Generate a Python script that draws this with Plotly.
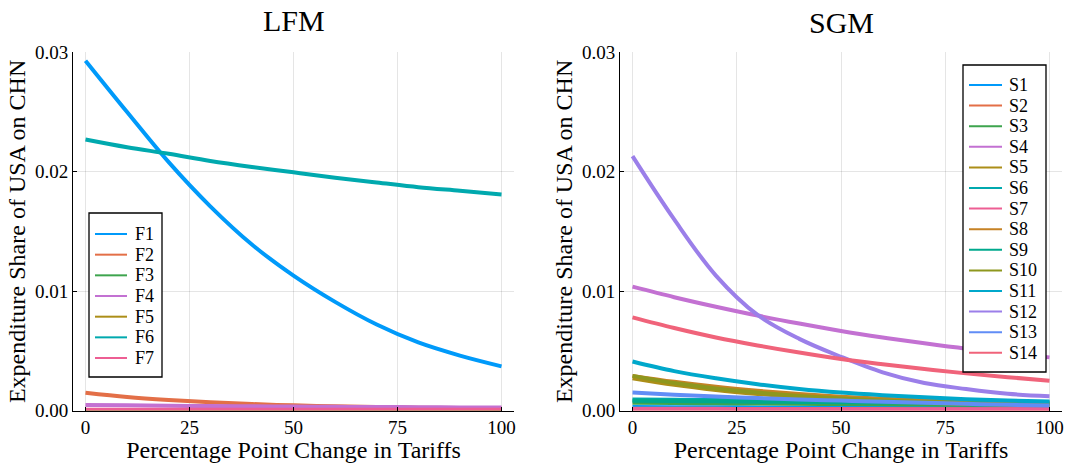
import plotly.graph_objects as go

# ---------------- data ----------------
tariff_change = [0, 10, 20, 30, 40, 50, 60, 70, 80, 90, 100]

lfm_names = ["F1", "F2", "F3", "F4", "F5", "F6", "F7"]
F1 = [0.0293, 0.0250, 0.0208, 0.0171, 0.0139, 0.0113, 0.0091, 0.0072, 0.0057, 0.0046, 0.0037]
F2 = [0.00148, 0.00113, 0.00088, 0.00069, 0.00054, 0.00043, 0.00035, 0.00029, 0.00024, 0.00020, 0.00017]
F3 = [0.00001, 0.00001, 0.00001, 0.00001, 0.00001, 0.00001, 0.00001, 0.00001, 0.00001, 0.00001, 0.00001]
F4 = [0.00046, 0.00043, 0.00040, 0.00037, 0.00035, 0.00033, 0.00031, 0.00029, 0.00028, 0.00026, 0.00025]
F5 = [0.00003, 0.00003, 0.00003, 0.00003, 0.00003, 0.00003, 0.00003, 0.00003, 0.00003, 0.00003, 0.00003]
F6 = [0.0227, 0.02205, 0.0215, 0.0209, 0.0204, 0.01995, 0.0195, 0.0191, 0.0187, 0.0184, 0.0181]
F7 = [0.00006, 0.00006, 0.00006, 0.00006, 0.00006, 0.00006, 0.00006, 0.00006, 0.00006, 0.00006, 0.00006]
lfm_series = [F1, F2, F3, F4, F5, F6, F7]

sgm_names = ["S%d" % i for i in range(1, 15)]
S1 = [0.00030, 0.00028, 0.00027, 0.00026, 0.00025, 0.00024, 0.00023, 0.00022, 0.00021, 0.00021, 0.00020]
S2 = [0.00015, 0.00014, 0.00014, 0.00013, 0.00013, 0.00012, 0.00012, 0.00011, 0.00011, 0.00010, 0.00010]
S3 = [0.00065, 0.00062, 0.00060, 0.00058, 0.00056, 0.00054, 0.00052, 0.00050, 0.00048, 0.00047, 0.00045]
S4 = [0.01037, 0.00949, 0.00869, 0.00795, 0.00728, 0.00666, 0.00612, 0.00563, 0.00518, 0.00480, 0.00445]
S5 = [0.00270, 0.00215, 0.00172, 0.00139, 0.00113, 0.00093, 0.00078, 0.00066, 0.00057, 0.00050, 0.00045]
S6 = [0.00092, 0.00089, 0.00087, 0.00084, 0.00082, 0.00080, 0.00078, 0.00076, 0.00074, 0.00072, 0.00070]
S7 = [0.00012, 0.00012, 0.00012, 0.00011, 0.00011, 0.00011, 0.00011, 0.00010, 0.00010, 0.00010, 0.00010]
S8 = [0.00290, 0.00240, 0.00198, 0.00165, 0.00138, 0.00116, 0.00098, 0.00084, 0.00073, 0.00064, 0.00057]
S9 = [0.00082, 0.00079, 0.00077, 0.00074, 0.00072, 0.00070, 0.00068, 0.00065, 0.00063, 0.00061, 0.00060]
S10 = [0.00290, 0.00230, 0.00185, 0.00150, 0.00122, 0.00100, 0.00084, 0.00072, 0.00063, 0.00056, 0.00050]
S11 = [0.00410, 0.00330, 0.00270, 0.00220, 0.00180, 0.00150, 0.00128, 0.00110, 0.00095, 0.00083, 0.00075]
S12 = [0.02130, 0.01600, 0.01130, 0.00800, 0.00600, 0.00450, 0.00320, 0.00230, 0.00180, 0.00140, 0.00120]
S13 = [0.00150, 0.00132, 0.00117, 0.00104, 0.00093, 0.00083, 0.00073, 0.00064, 0.00056, 0.00048, 0.00042]
S14 = [0.00780, 0.00691, 0.00612, 0.00545, 0.00485, 0.00431, 0.00387, 0.00347, 0.00311, 0.00279, 0.00250]
sgm_series = [S1, S2, S3, S4, S5, S6, S7, S8, S9, S10, S11, S12, S13, S14]

palette = ["#009AFA", "#E36F47", "#3EA44E", "#C371D2", "#AC8E18", "#00A9AE", "#ED5E93",
           "#C68225", "#00A98D", "#8E971E", "#00A8CB", "#9B7FE9", "#618DF6", "#F0637A"]

x_ticks = [0, 25, 50, 75, 100]
y_ticks = [0.0, 0.01, 0.02, 0.03]

FONT = "Liberation Serif"
W, H = 1070, 463

fig = go.Figure()
shapes = []
annotations = []


def px_x(v):
    return v / W


def px_y(v):
    return 1 - v / H


def add_panel(series, names, xa, ya, box, line_x, text_x, y_first, step):
    for vals, name, col in zip(series, names, palette):
        fig.add_trace(go.Scatter(x=tariff_change, y=vals, mode="lines", name=name,
                                 line=dict(color=col, width=4, shape="spline"),
                                 xaxis=xa, yaxis=ya, showlegend=False))
    # legend box (drawn manually for Plots.jl-like compact spacing)
    shapes.append(dict(type="rect", xref="paper", yref="paper", layer="above",
                       x0=px_x(box[0]), x1=px_x(box[1]), y0=px_y(box[3]), y1=px_y(box[2]),
                       line=dict(color="black", width=1.3), fillcolor="white"))
    for i, (name, col) in enumerate(zip(names, palette)):
        yy = y_first + i * step
        shapes.append(dict(type="line", xref="paper", yref="paper", layer="above",
                           x0=px_x(line_x[0]), x1=px_x(line_x[1]), y0=px_y(yy), y1=px_y(yy),
                           line=dict(color=col, width=2)))
        annotations.append(dict(text=name, x=px_x(text_x), y=px_y(yy), xref="paper", yref="paper",
                                showarrow=False, xanchor="left", yanchor="middle",
                                font=dict(family=FONT, size=18, color="black")))


add_panel(lfm_series, lfm_names, "x", "y", (89, 162, 213, 377), (95, 127), 133, 234, 20.67)
add_panel(sgm_series, sgm_names, "x2", "y2", (963, 1046, 65, 372), (969, 1002), 1007, 85, 20.6)

ydom = [1 - 410.5 / H, 1 - 52.3 / H]
axis_common = dict(showline=True, linecolor="black", linewidth=1, ticks="inside", ticklen=4,
                   tickcolor="black", showgrid=True, gridcolor="rgba(0,0,0,0.1)", gridwidth=1,
                   zeroline=False, tickfont=dict(family=FONT, size=19, color="black"),
                   mirror=False, automargin=False)

xt = dict(text="Percentage Point Change in Tariffs", font=dict(family=FONT, size=24, color="black"), standoff=2)
yt = dict(text="Expenditure Share of USA on CHN", font=dict(family=FONT, size=24, color="black"), standoff=2)

annotations += [
    dict(text="LFM", x=293.5 / W, y=1 - 20 / H, xref="paper", yref="paper",
         showarrow=False, font=dict(family=FONT, size=30, color="black"),
         xanchor="center", yanchor="middle"),
    dict(text="SGM", x=841 / W, y=1 - 22 / H, xref="paper", yref="paper",
         showarrow=False, font=dict(family=FONT, size=30, color="black"),
         xanchor="center", yanchor="middle"),
]

fig.update_layout(
    width=W, height=H, autosize=False,
    margin=dict(l=0, r=0, t=0, b=0, pad=0),
    paper_bgcolor="white", plot_bgcolor="white",
    font=dict(family=FONT, color="black"),
    showlegend=False,
    xaxis=dict(domain=[73 / W, 514 / W], range=[-3, 103], tickvals=x_ticks, anchor="y",
               title=xt, **axis_common),
    yaxis=dict(domain=ydom, range=[0, 0.03], tickvals=y_ticks, tickformat=".2f", anchor="x",
               title=yt, **axis_common),
    xaxis2=dict(domain=[620 / W, 1062 / W], range=[-3, 103], tickvals=x_ticks, anchor="y2",
                title=xt, **axis_common),
    yaxis2=dict(domain=ydom, range=[0, 0.03], tickvals=y_ticks, tickformat=".2f", anchor="x2",
                title=yt, **axis_common),
    shapes=shapes,
    annotations=annotations,
)

fig.write_html(
    "out.html",
    config={"responsive": False, "displayModeBar": False},
    post_script="document.body.style.margin='0';document.body.style.overflow='hidden';"
                "document.documentElement.style.overflow='hidden';",
)
